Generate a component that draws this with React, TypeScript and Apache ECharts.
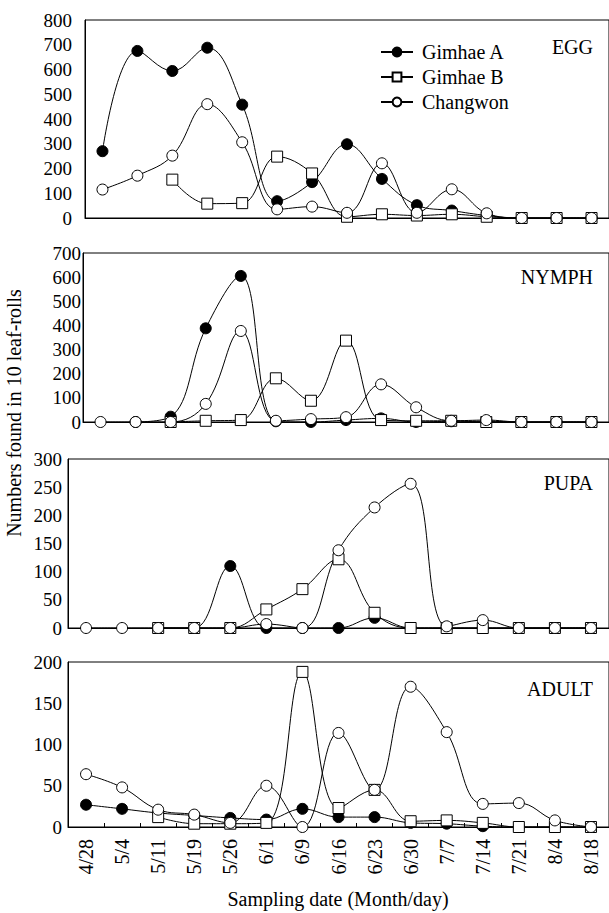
import React, { useEffect, useRef } from 'react';
import * as echarts from 'echarts';

const dates = ['4/28', '5/4', '5/11', '5/19', '5/26', '6/1', '6/9', '6/16', '6/23', '6/30', '7/7', '7/14', '7/21', '8/4', '8/18'];
const seriesNames = ['Gimhae A', 'Gimhae B', 'Changwon'];

const eggGimhaeA = [270, 675, 594, 688, 458, 68, 145, 298, 158, 52, 30, 10, 0, 0, 0];
const eggGimhaeB = [null, null, 155, 58, 60, 248, 180, 5, 15, 10, 15, 5, 0, 0, 0];
const eggChangwon = [115, 171, 252, 460, 306, 35, 46, 21, 221, 21, 116, 19, 0, 0, 0];

const nymphGimhaeA = [null, 0, 22, 388, 605, 3, 0, 8, 15, 0, 3, 3, 0, 0, 0];
const nymphGimhaeB = [null, null, 0, 5, 8, 181, 88, 337, 8, 5, 5, 0, 0, 0, 0];
const nymphChangwon = [0, 0, 0, 75, 377, 5, 12, 20, 156, 61, 5, 8, 0, 0, 0];

const pupaGimhaeA = [null, null, 0, 0, 110, 0, 0, 0, 18, 0, 0, 0, 0, 0, 0];
const pupaGimhaeB = [null, null, 0, 0, 0, 33, 69, 122, 27, 0, 0, 0, 0, 0, 0];
const pupaChangwon = [0, 0, 0, 0, 0, 7, 0, 138, 214, 256, 3, 14, 0, 0, 0];

const adultGimhaeA = [27, 22, 17, 14, 11, 9, 22, 12, 12, 5, 4, 1, 0, 0, 0];
const adultGimhaeB = [null, null, 12, 4, 4, 5, 188, 23, 45, 7, 8, 5, 0, 0, 0];
const adultChangwon = [64, 48, 21, 15, 5, 50, 0, 114, 45, 170, 115, 28, 29, 8, 0];

const panelLabels = ['EGG', 'NYMPH', 'PUPA', 'ADULT'];
const yMax = [800, 700, 300, 200];
const yInterval = [100, 100, 50, 50];
const panelData = [
  [eggGimhaeA, eggGimhaeB, eggChangwon],
  [nymphGimhaeA, nymphGimhaeB, nymphChangwon],
  [pupaGimhaeA, pupaGimhaeB, pupaChangwon],
  [adultGimhaeA, adultGimhaeB, adultChangwon],
];

const FONT = 'Times New Roman, Liberation Serif, serif';

const layout = [
  { left: 85, top: 20, width: 525, height: 198, labelMargin: 13, labelY: 47 },
  { left: 83, top: 253, width: 527, height: 169, labelMargin: 2, labelY: 277 },
  { left: 68, top: 459, width: 542, height: 169, labelMargin: 6, labelY: 483 },
  { left: 68, top: 662, width: 542, height: 165, labelMargin: 6, labelY: 689 },
];

const markerStyles = [
  { symbol: 'circle', fill: '#000' },
  { symbol: 'rect', fill: '#fff' },
  { symbol: 'circle', fill: '#fff' },
];

export default function App() {
  const ref = useRef<HTMLDivElement>(null);

  useEffect(() => {
    if (!ref.current) return;
    const chart = echarts.init(ref.current, null, { renderer: 'svg' });

    const grid = layout.map((l) => ({
      left: l.left,
      top: l.top,
      width: l.width,
      height: l.height,
      show: true,
      borderColor: '#000',
      borderWidth: 1,
      backgroundColor: 'transparent',
    }));

    const xAxis = layout.map((_, i) => ({
      type: 'category',
      gridIndex: i,
      data: dates,
      boundaryGap: true,
      axisLine: { show: true, lineStyle: { color: '#000', width: 1 } },
      axisTick: { show: i === 3, inside: true, length: 4, lineStyle: { color: '#000' } },
      axisLabel: {
        show: i === 3,
        rotate: 90,
        margin: 12,
        fontSize: 20,
        fontFamily: FONT,
        color: '#000',
      },
      splitLine: { show: false },
    }));

    const yAxis = layout.map((l, i) => ({
      type: 'value',
      gridIndex: i,
      min: 0,
      max: yMax[i],
      interval: yInterval[i],
      axisLine: { show: true, lineStyle: { color: '#000', width: 1 } },
      axisTick: { show: false },
      splitLine: { show: false },
      axisLabel: {
        margin: l.labelMargin,
        fontSize: 19,
        fontFamily: FONT,
        color: '#000',
      },
    }));

    const series: any[] = [];
    panelData.forEach((group, i) => {
      group.forEach((values, s) => {
        series.push({
          type: 'line',
          name: seriesNames[s],
          xAxisIndex: i,
          yAxisIndex: i,
          data: values,
          smooth: 0.4,
          symbol: markerStyles[s].symbol,
          symbolSize: 11,
          showAllSymbol: true,
          lineStyle: { color: '#000', width: 1 },
          itemStyle: { color: markerStyles[s].fill, borderColor: '#000', borderWidth: 1 },
          emphasis: { disabled: true },
          silent: true,
        });
      });
    });

    const textStyle = (text: string, align: string) => ({
      text,
      fontSize: 20,
      fontFamily: FONT,
      fill: '#000',
      textAlign: align,
      textVerticalAlign: 'middle',
    });

    const graphic: any[] = [
      {
        type: 'text',
        x: 14,
        y: 413,
        rotation: Math.PI / 2,
        style: textStyle('Numbers found in 10 leaf-rolls', 'center'),
      },
      {
        type: 'text',
        x: 338,
        y: 899,
        style: textStyle('Sampling date (Month/day)', 'center'),
      },
      ...panelLabels.map((t, i) => ({
        type: 'text',
        x: 593,
        y: layout[i].labelY,
        style: textStyle(t, 'right'),
      })),
    ];

    chart.setOption({
      animation: false,
      backgroundColor: '#fff',
      textStyle: { fontFamily: FONT },
      grid,
      xAxis,
      yAxis,
      series,
      legend: {
        data: seriesNames,
        orient: 'vertical',
        left: 380,
        top: 42,
        padding: 0,
        itemWidth: 32,
        itemHeight: 11,
        itemGap: 5,
        selectedMode: false,
        textStyle: {
          fontSize: 20,
          lineHeight: 20,
          fontFamily: FONT,
          color: '#000',
          padding: [0, 0, 0, 4],
        },
      },
      graphic,
    });

    return () => chart.dispose();
  }, []);

  return (
    <div
      ref={ref}
      style={{ position: 'absolute', left: 0, top: 0, width: 609, height: 913, background: '#fff' }}
    />
  );
}
